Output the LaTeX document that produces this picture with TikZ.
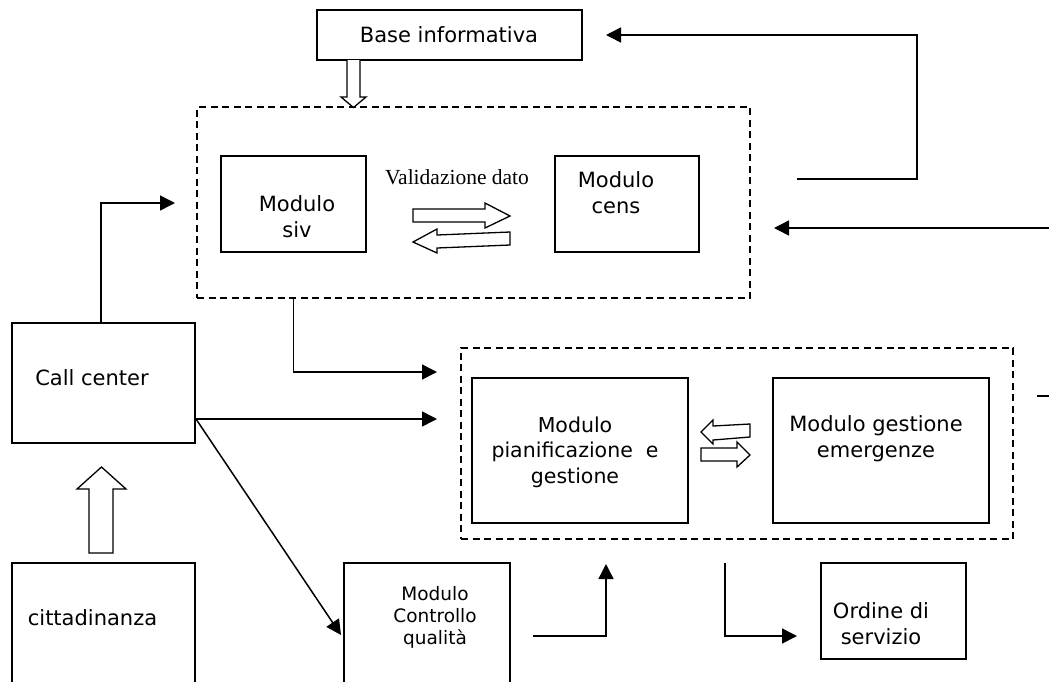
\documentclass[tikz,border=0pt]{standalone}
\usepackage{fontspec}
\setmainfont{DejaVu Sans}
\newfontfamily\serifA{Liberation Serif}
\usetikzlibrary{arrows.meta}
\begin{document}
\begin{tikzpicture}[x=1pt,y=-1pt,
  box/.style={draw, line width=1.6pt, rectangle, inner sep=0pt, outer sep=0pt},
  grp/.style={draw, line width=1.4pt, dash pattern=on 7pt off 4.5pt, rectangle, inner sep=0pt, outer sep=0pt},
  conn/.style={line width=1.5pt},
  arr/.style={conn, -{Triangle[length=15pt,width=15pt]}},
  hollow/.style={draw, line width=1.3pt, fill=white, line join=miter},
  txt/.style={anchor=base, align=center, inner sep=0pt, font=\fontsize{21}{26}\selectfont},
]
\useasboundingbox (0,0) rectangle (1049,681);
\clip (0,0) rectangle (1049,681);
\fill[white] (0,0) rectangle (1049,681);

% boxes
\node[box, minimum width=265pt, minimum height=50pt] (base) at (449.5,35) {};
\node[grp, minimum width=553pt, minimum height=191pt] (grp1) at (473.5,202.5) {};
\node[box, minimum width=145pt, minimum height=96pt] (siv) at (293.5,204) {};
\node[box, minimum width=144pt, minimum height=96pt] (cens) at (627,204) {};
\node[box, minimum width=183pt, minimum height=120pt] (call) at (103.5,383) {};
\node[box, minimum width=183pt, minimum height=137pt] (citt) at (103.5,631.5) {};
\node[grp, minimum width=552pt, minimum height=191pt] (grp2) at (737,443.5) {};
\node[box, minimum width=216pt, minimum height=145pt] (pian) at (580,450.5) {};
\node[box, minimum width=216pt, minimum height=145pt] (gest) at (881,450.5) {};
\node[box, minimum width=166pt, minimum height=137pt] (ctrl) at (427,631.5) {};
\node[box, minimum width=145pt, minimum height=96pt] (ord) at (893.5,611) {};

% texts (base anchor = baseline of the last line)
\node[txt] (tbase) at (449,42) {Base informativa};
\node[txt] (tsiv) at (297,237) {Modulo\\siv};
\node[txt] (tcens) at (616,213) {Modulo\\cens};
\node[txt, font=\serifA\fontsize{21.5}{24}\selectfont] (tval) at (457,184) {Validazione dato};
\node[txt] (tcall) at (92,385) {Call center};
\node[txt] (tcitt) at (92.5,625) {cittadinanza};
\node[txt, font=\fontsize{20.5}{25.5}\selectfont] (tpian) at (575,483) {Modulo\\pianificazione~ e\\gestione};
\node[txt] (tgest) at (876,457) {Modulo gestione\\emergenze};
\node[txt, font=\fontsize{18.5}{22}\selectfont] (tctrl) at (435,644) {Modulo\\Controllo\\qualità};
\node[txt] (tord) at (881,644) {Ordine di\\servizio};

% free ends
\coordinate (r1) at (797,179);
\coordinate (r2) at (1049,228);
\coordinate (r2tip) at (774,228);
\coordinate (r3) at (1037,396);
\coordinate (r3b) at (1049,396);
\coordinate (c1tip) at (175,203);
\coordinate (p1tip) at (437,372);
\coordinate (ce) at (196,419);
\coordinate (p2tip) at (437,419);
\coordinate (qtip) at (341,635);
\coordinate (q1) at (533,636);
\coordinate (q1tip) at (606,564);
\coordinate (o1) at (725,563);
\coordinate (o1tip) at (797,636);

% connectors
\draw[arr, shorten >=24pt] (r1) -- (917,179) |- (base.east);
\draw[arr] (r2) -- (r2tip);
\draw[conn] (r3) -- (r3b);
\draw[arr] (101,323) |- (c1tip);
\draw[arr] (siv.center |- grp1.south) |- (p1tip);
\draw[arr] (ce) -- (p2tip);
\draw[arr] (ce) -- (qtip);
\draw[arr] (q1) -| (q1tip);
\draw[arr] (o1) |- (o1tip);

% hollow arrows
\draw[hollow] (347,60) -- (347,97) -- (341,97) -- (353.5,107.5) -- (366,97) -- (360,97) -- (360,60);
\draw[hollow] (89,553) -- (89,489) -- (77,489) -- (101.5,467) -- (126,489) -- (113,489) -- (113,553) -- cycle;
\draw[hollow] (413,209) -- (485,209) -- (485,203) -- (510,216) -- (485,228) -- (485,222) -- (413,222) -- cycle;
\draw[hollow] (510,232) -- (437,235) -- (437,229) -- (413,242) -- (437,253) -- (437,248) -- (510,245) -- cycle;
\draw[hollow] (750,424) -- (713,426) -- (713,420) -- (701,432) -- (713,444) -- (713,440) -- (750,437) -- cycle;
\draw[hollow] (701,448) -- (737,448) -- (737,442) -- (750,455) -- (737,467) -- (737,461) -- (701,461) -- cycle;
\end{tikzpicture}
\end{document}
